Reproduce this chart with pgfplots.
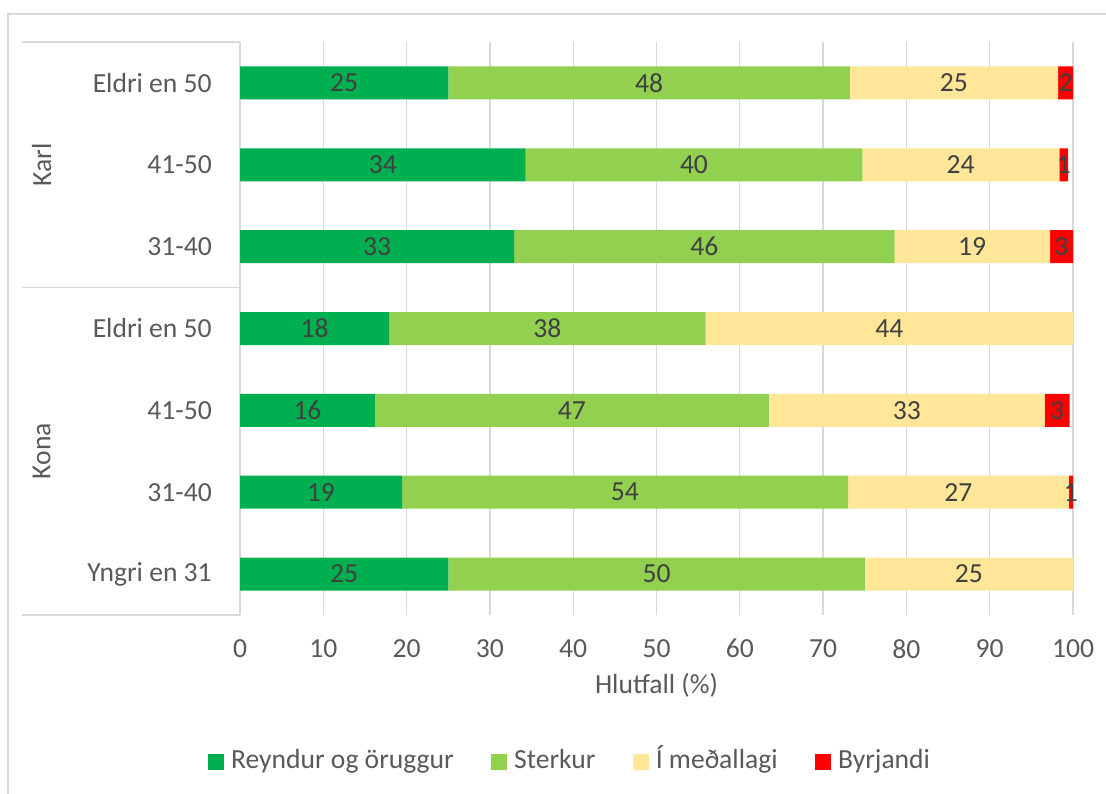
\documentclass[border=0pt]{standalone}
\usepackage{pgfplots}
\usepackage{pgfplotstable}
\pgfplotsset{compat=1.18}
\usepackage{fontspec}
\setmainfont{Carlito}
\definecolor{cA}{HTML}{00B050}
\definecolor{cB}{HTML}{92D050}
\definecolor{cC}{HTML}{FFE699}
\definecolor{cD}{HTML}{FF0000}
\definecolor{txt}{HTML}{595959}
\definecolor{lbl}{HTML}{404040}
\definecolor{grd}{HTML}{D9D9D9}
\newcommand{\fs}{\fontsize{20.7}{24}\selectfont}

\pgfplotstableread{
y a b c d
6 25 48.2 25 1.8
5 34.3 40.4 23.65 1.05
4 32.9 45.7 18.64 2.76
3 17.9 38.0 44.1 0
2 16.2 47.3 33.1 3.0
1 19.45 53.55 26.5 0.5
0 25 50 25 0
}\data

\pgfplotstableread{
x y l
12.5 6 25
49.1 6 48
85.7 6 25
99.1 6 2
17.15 5 34
54.5 5 40
86.5 5 24
98.9 5 1
16.45 4 33
55.75 4 46
87.9 4 19
98.6 4 3
8.95 3 18
36.9 3 38
77.95 3 44
8.1 2 16
39.85 2 47
80.05 2 33
98.1 2 3
9.7 1 19
46.2 1 54
86.25 1 27
99.75 1 1
12.5 0 25
50 0 50
87.5 0 25
}\labels

\begin{document}
\begin{tikzpicture}
\useasboundingbox (0,0) rectangle (829.5pt,594.75pt);
\draw[grd, line width=1pt] (6pt,-20pt) -- (6pt,584.25pt) -- (850pt,584.25pt);
\begin{axis}[
  at={(180pt,133.5pt)}, anchor=south west,
  scale only axis, width=624.75pt, height=429.75pt,
  xbar stacked, bar width=24.75pt,
  xmin=0, xmax=100, ymin=-0.5, ymax=6.5,
  xtick={0,10,...,100}, ytick={0,...,6},
  yticklabels={Yngri en 31,31-40,41-50,Eldri en 50,31-40,41-50,Eldri en 50},
  major tick length=0pt,
  xmajorgrids, grid style={grd, line width=1pt},
  axis line style={draw=none},
  clip=false,
  /pgf/number format/assume math mode=true,
  tick label style={font=\fs, text=txt},
  xticklabel style={inner sep=0pt, anchor=north, yshift=-18pt},
  yticklabel style={inner sep=0pt, anchor=east, xshift=-21pt},
  xlabel={Hlutfall (\%)},
  xlabel style={at={(axis description cs:0.5,-0.122)}, anchor=center, font=\fs, text=txt},
  legend columns=4,
  legend style={at={(0.395,-0.258)}, anchor=center, draw=none, fill=none, font=\fs, text=txt,
    inner sep=0pt,
    nodes={inner sep=0pt, text height=0.72em, text depth=0.22em},
    /tikz/every odd column/.append style={column sep=5.25pt},
    /tikz/every even column/.append style={column sep=28pt}},
  legend image code/.code={\fill[#1] (0pt,-3.75pt) rectangle (12pt,8.25pt);},
]
\addplot[fill=cA, draw=none] table[x=a, y=y] {\data};
\addlegendentry{Reyndur og öruggur}
\addplot[fill=cB, draw=none] table[x=b, y=y] {\data};
\addlegendentry{Sterkur}
\addplot[fill=cC, draw=none] table[x=c, y=y] {\data};
\addlegendentry{Í meðallagi}
\addplot[fill=cD, draw=none] table[x=d, y=y] {\data};
\addlegendentry{Byrjandi}
\draw[grd, line width=1pt] (axis cs:-26.2,6.5) -- (axis cs:0,6.5);
\draw[grd, line width=1pt] (axis cs:-26.2,3.5) -- (axis cs:0,3.5);
\draw[grd, line width=1pt] (axis cs:-26.2,-0.5) -- (axis cs:0,-0.5);
\node[rotate=90, font=\fs, text=txt] at (axis cs:-23.8,5) {Karl};
\node[rotate=90, font=\fs, text=txt] at (axis cs:-23.8,1.5) {Kona};
\end{axis}
\begin{axis}[
  at={(180pt,133.5pt)}, anchor=south west,
  scale only axis, width=624.75pt, height=429.75pt,
  xmin=0, xmax=100, ymin=-0.5, ymax=6.5,
  hide axis, clip=false,
]
\addplot[draw=none, mark=none, nodes near coords, point meta=explicit symbolic,
  nodes near coords style={anchor=center, font=\fs, text=lbl}]
  table[x=x, y=y, meta=l] {\labels};
\end{axis}
\end{tikzpicture}
\end{document}
